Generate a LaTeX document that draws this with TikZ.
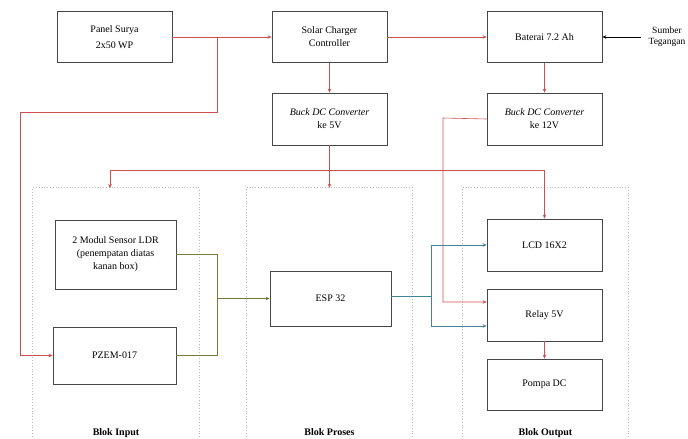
\documentclass[tikz,border=0pt]{standalone}
\usepackage{fontspec}
\setmainfont{Liberation Serif}
\usetikzlibrary{arrows.meta,calc}
\definecolor{redl}{RGB}{205,80,80}
\definecolor{olivel}{RGB}{120,120,60}
\definecolor{teall}{RGB}{70,130,150}
\definecolor{boxc}{RGB}{70,70,70}
\tikzset{
  blk/.style={draw=boxc,line width=0.8pt,minimum width=115pt,minimum height=51pt,align=center,inner sep=1pt,font=\fontsize{10}{13}\selectfont},
  cont/.style={minimum width=166pt,minimum height=254pt,inner sep=0pt},
  dots/.style={draw=gray!55,dotted,line width=0.8pt},
  lbl/.style={anchor=base,font=\bfseries\fontsize{10}{12}\selectfont},
  con/.style={line width=0.6pt,-{Stealth[length=4pt,width=3.5pt]}},
  rc/.style={con,draw=redl},
  oc/.style={con,draw=olivel},
  tc/.style={con,draw=teall},
  kc/.style={con,draw=black}
}
\begin{document}
\begin{tikzpicture}[x=1pt,y=-1pt]
\useasboundingbox[fill=white] (0,0) rectangle (688,439);
% containers
\node[cont] (inp) at (116,315) {};
\node[cont] (pro) at (329.5,315) {};
\node[cont] (out) at (545.5,315) {};
\foreach \c in {inp,pro,out}
  \draw[dots] (\c.south west) -- (\c.north west) -- (\c.north east) -- (\c.south east);
\node[lbl] (linp) at (116,435) {Blok Input};
\node[lbl] (lpro) at (329.5,435) {Blok Proses};
\node[lbl] (lout) at (545.5,435) {Blok Output};
% blocks
\node[blk] (panel) at (114.5,37) {Panel Surya\\[3pt]2x50 WP};
\node[blk] (scc) at (329.5,37) {Solar Charger\\Controller};
\node[blk] (bat) at (544.5,37) {Baterai 7.2 Ah};
\node[align=center,inner sep=0pt,font=\fontsize{9.5}{11}\selectfont] (sumber) at (667,37) {Sumber\\Tegangan};
\node[blk,minimum height=52pt] (b5) at (329.5,119) {\textit{Buck DC Converter}\\ke 5V};
\node[blk,minimum height=52pt] (b12) at (544.5,119) {\textit{Buck DC Converter}\\ke 12V};
\node[blk,minimum width=121pt,minimum height=69pt] (ldr) at (115.5,254.5) {2 Modul Sensor LDR\\(penempatan diatas\\kanan box)};
\node[blk,minimum width=123pt,minimum height=57pt] (pzem) at (114.5,355.5) {PZEM-017};
\node[blk,minimum width=121pt,minimum height=55pt] (esp) at (330.5,298.5) {ESP 32};
\node[blk,minimum height=52pt] (lcd) at (544.5,245) {LCD 16X2};
\node[blk,minimum height=52pt] (relay) at (544.5,315) {Relay 5V};
\node[blk,minimum height=51pt] (pompa) at (544.5,384.5) {Pompa DC};
% coordinates
\coordinate (j1) at (217,37);
\coordinate (c1) at (20,112);
\coordinate (j2) at (330,170);
\coordinate (inpin) at (110,188);
\coordinate (c2) at (443,118);
\coordinate (m1) at (217,298.5);
\coordinate (t1) at (431,296);
\coordinate (s1) at (641,37);
% power connectors
\draw[rc] (panel.east) -- (scc.west);
\draw[rc] (j1) |- (c1) |- (pzem.west);
\draw[rc] (scc.east) -- (bat.west);
\draw[rc] (scc.south) -- (b5.north);
\draw[rc] (bat.south) -- (b12.north);
\draw[kc] (s1) -- (bat.east);
\draw[rc] (b5.south) -- (pro.north);
\draw[rc] (j2) -| (inpin);
\draw[rc] (j2) -| (lcd.north);
\draw[rc] (b12.west) -- (c2) |- ($(relay.west)+(0,-13)$);
\draw[rc] (relay.south) -- (pompa.north);
% signal connectors
\draw[draw=olivel,line width=0.6pt] (ldr.east) -| (m1);
\draw[draw=olivel,line width=0.6pt] (pzem.east) -| (m1);
\draw[oc] (m1) -- (esp.west);
\draw[draw=teall,line width=0.6pt] (esp.east |- t1) -- (t1);
\draw[tc] (t1) |- (lcd.west);
\draw[tc] (t1) |- ($(relay.west)+(0,11)$);
\end{tikzpicture}
\end{document}
